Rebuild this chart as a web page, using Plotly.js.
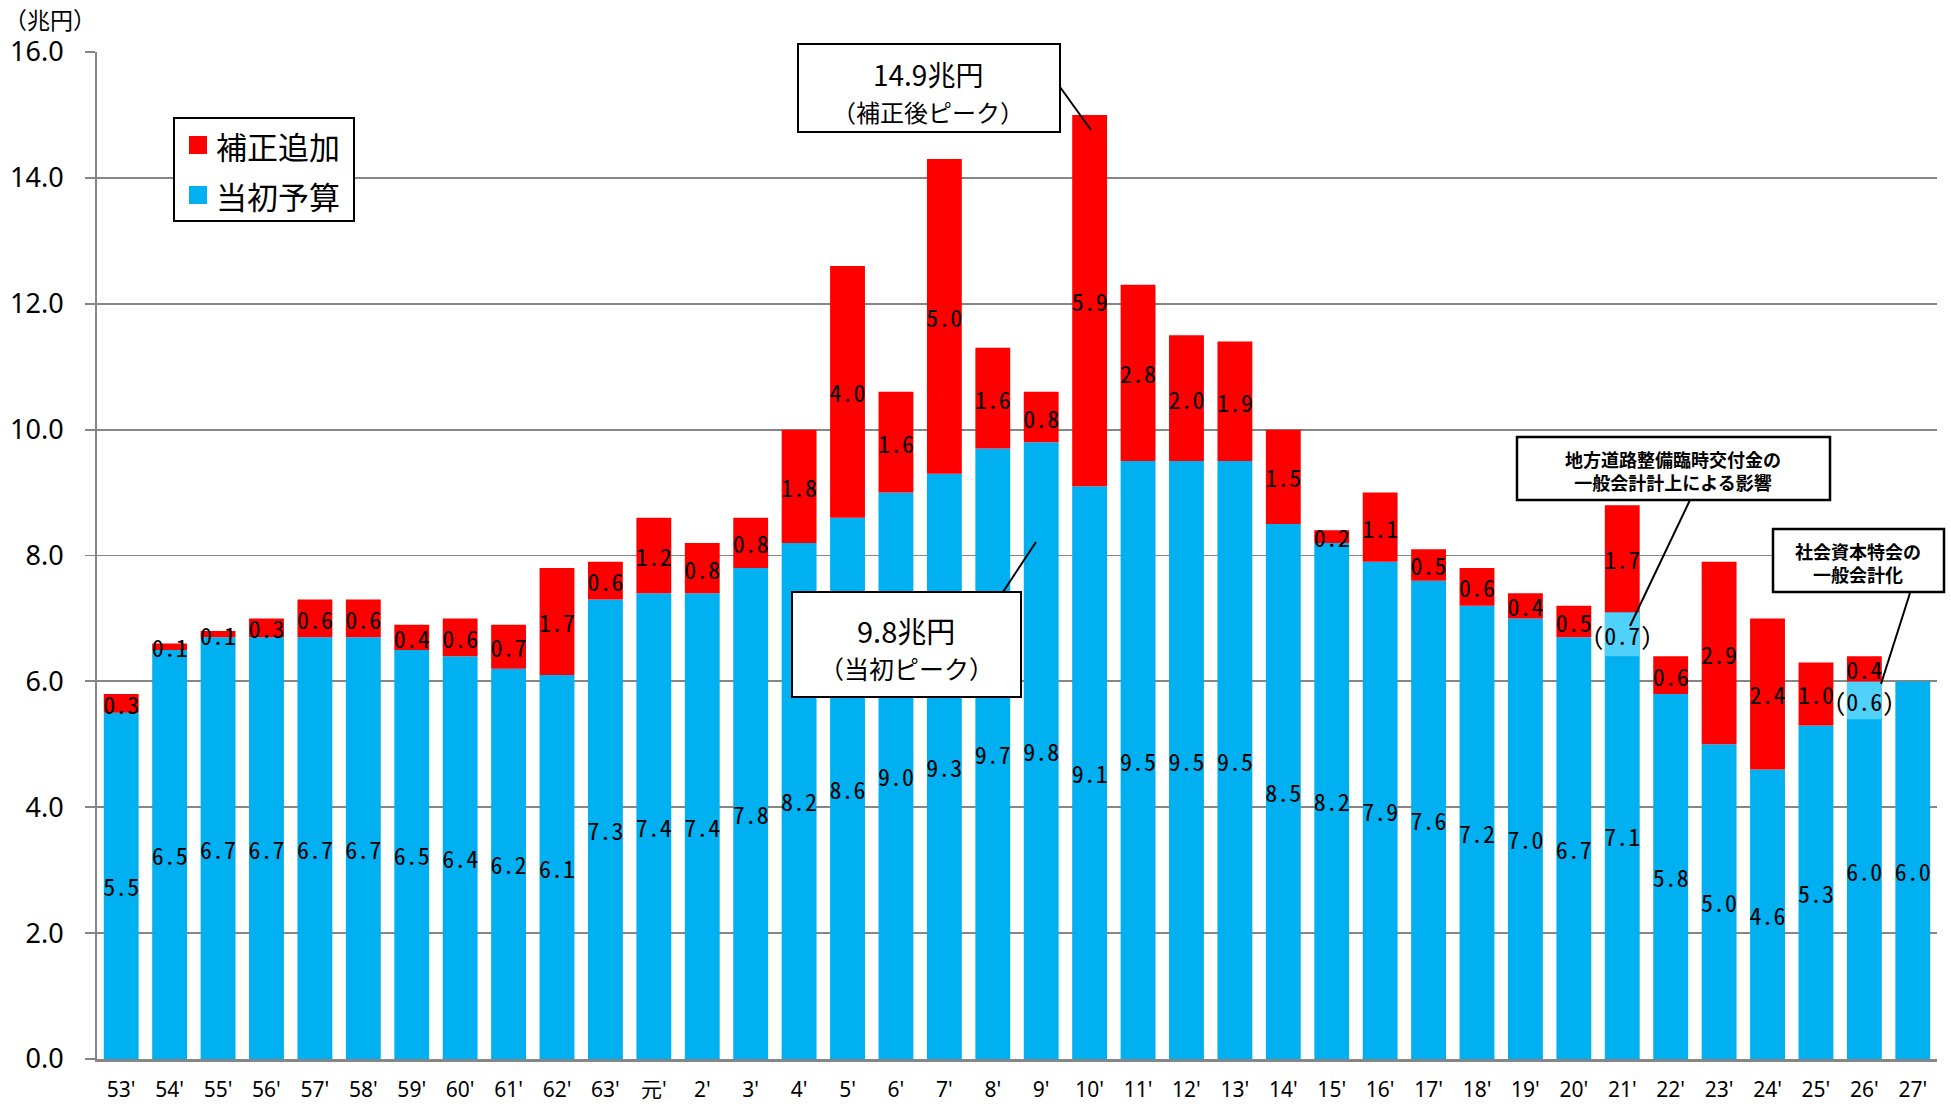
<!DOCTYPE html>
<html>
<head>
<meta charset="utf-8">
<script src="https://cdn.plot.ly/plotly-3.0.1.min.js"></script>
<style>
  html, body { margin: 0; padding: 0; background: #fff; }
  #chart { width: 1951px; height: 1110px; }
</style>
</head>
<body>
<div id="chart"></div>
<script>
// Fiscal years (昭和53年度 – 平成27年度)
const years = ["53'","54'","55'","56'","57'","58'","59'","60'","61'","62'","63'","元'",
  "2'","3'","4'","5'","6'","7'","8'","9'","10'","11'","12'","13'","14'","15'","16'",
  "17'","18'","19'","20'","21'","22'","23'","24'","25'","26'","27'"];

// 当初予算 (兆円)
const initialBudget = [5.5,6.5,6.7,6.7,6.7,6.7,6.5,6.4,6.2,6.1,7.3,7.4,
  7.4,7.8,8.2,8.6,9.0,9.3,9.7,9.8,9.1,9.5,9.5,9.5,8.5,8.2,7.9,
  7.6,7.2,7.0,6.7,7.1,5.8,5.0,4.6,5.3,6.0,6.0];

// 補正追加 (兆円)
const supplementary = [0.3,0.1,0.1,0.3,0.6,0.6,0.4,0.6,0.7,1.7,0.6,1.2,
  0.8,0.8,1.8,4.0,1.6,5.0,1.6,0.8,5.9,2.8,2.0,1.9,1.5,0.2,1.1,
  0.5,0.6,0.4,0.5,1.7,0.6,2.9,2.4,1.0,0.4,null];

// Portion of the initial budget due to accounting changes (兆円)
const reclassified = [null,null,null,null,null,null,null,null,null,null,null,null,
  null,null,null,null,null,null,null,null,null,null,null,null,null,null,null,
  null,null,null,null,0.7,null,null,null,null,0.6,null];

const seriesNames = ["補正追加", "当初予算"];
const colors = { supp: "#ff0000", initial: "#00b0f0", reclass: "#4fd1fa" };

const labelFont = { family: "Noto Sans Mono CJK JP, Liberation Mono, monospace", size: 24, color: "#000" };
const jpFont = "Noto Sans CJK JP, Noto Sans, sans-serif";

const fmt = v => (v == null ? "" : v.toFixed(1));

const traceInitial = {
  type: "bar", name: seriesNames[1], x: years, y: initialBudget, base: 0,
  marker: { color: colors.initial, line: { width: 0 } },
  text: initialBudget.map(fmt), textposition: "inside", insidetextanchor: "middle",
  textangle: 0, constraintext: "none", textfont: labelFont, insidetextfont: labelFont,
  hoverinfo: "x+y"
};

const traceReclass = {
  type: "bar", name: "一般会計化", x: years, y: reclassified,
  base: reclassified.map((v, i) => v == null ? null : initialBudget[i] - v),
  marker: { color: colors.reclass, line: { width: 0 } },
  text: reclassified.map(v => v == null ? "" : "(" + fmt(v) + ")"),
  textposition: "inside", insidetextanchor: "middle",
  textangle: 0, constraintext: "none", textfont: labelFont, insidetextfont: labelFont,
  hoverinfo: "x+y"
};

const traceSupp = {
  type: "bar", name: seriesNames[0], x: years, y: supplementary, base: initialBudget,
  marker: { color: colors.supp, line: { width: 0 } },
  text: supplementary.map(fmt), textposition: "inside", insidetextanchor: "middle",
  textangle: 0, constraintext: "none", textfont: labelFont, insidetextfont: labelFont,
  hoverinfo: "x+y"
};

// Page geometry helpers: pixel position -> paper coordinates
const W = 1951, H = 1110, ML = 97, MR = 14, MT = 52, MB = 51;
const PW = W - ML - MR, PH = H - MT - MB;
const fx = p => (p - ML) / PW;
const fy = p => (H - MB - p) / PH;

function box(x0, y0, x1, y1, w) {
  return { type: "rect", xref: "paper", yref: "paper", x0: fx(x0), x1: fx(x1), y0: fy(y1), y1: fy(y0),
    fillcolor: "#fff", line: { color: "#000", width: w || 2 }, layer: "above" };
}
function seg(x0, y0, x1, y1) {
  return { type: "line", xref: "paper", yref: "paper", x0: fx(x0), y0: fy(y0), x1: fx(x1), y1: fy(y1),
    line: { color: "#000", width: 2 }, layer: "above" };
}
function swatch(x0, y0, size, color) {
  return { type: "rect", xref: "paper", yref: "paper", x0: fx(x0), x1: fx(x0 + size), y0: fy(y0 + size), y1: fy(y0),
    fillcolor: color, line: { width: 0 }, layer: "above" };
}
function label(text, x, y, size, opts) {
  return Object.assign({ xref: "paper", yref: "paper", x: fx(x), y: fy(y), text: text, showarrow: false,
    xanchor: "center", yanchor: "middle", font: { family: jpFont, size: size, color: "#000" } }, opts || {});
}

const shapes = [
  // legend
  box(174, 118, 354, 221, 2),
  swatch(189, 136, 18, colors.supp),
  swatch(189, 186, 18, colors.initial),
  // 補正後ピーク callout
  seg(1060, 87, 1091, 130),
  box(798, 44, 1060, 132, 2),
  // 当初ピーク callout
  seg(1003, 592, 1036, 542),
  box(792, 592, 1021, 697, 2),
  // 地方道路整備臨時交付金 callout
  seg(1690, 500, 1630, 626),
  box(1517, 437, 1830, 500, 2.5),
  // 社会資本特会 callout
  seg(1910, 593, 1881, 684),
  box(1773, 529, 1944, 592, 2.5)
];

const annotations = [
  label("（兆円）", 50, 19, 23),
  label(seriesNames[0], 214, 146, 31, { xanchor: "left" }),
  label(seriesNames[1], 214, 196, 31, { xanchor: "left" }),
  label("14.9兆円", 928, 74, 28),
  label("（補正後ピーク）", 928, 111, 24),
  label("9.8兆円", 906, 630, 29),
  label("（当初ピーク）", 906, 668, 25),
  label("<b>地方道路整備臨時交付金の<br>一般会計計上による影響</b>", 1673, 470, 18),
  label("<b>社会資本特会の<br>一般会計化</b>", 1858, 562, 18)
];

const layout = {
  width: W, height: H,
  margin: { l: ML, r: MR, t: MT, b: MB, pad: 0 },
  paper_bgcolor: "#fff", plot_bgcolor: "#fff",
  barmode: "overlay", bargap: 0.28,
  showlegend: false,
  font: { family: jpFont, color: "#000" },
  xaxis: {
    type: "category", categoryorder: "array", categoryarray: years,
    showline: true, linecolor: "#868686", linewidth: 2.5,
    ticks: "", showgrid: false, zeroline: false,
    tickfont: { family: "Noto Sans, Noto Sans CJK JP, sans-serif", size: 21, color: "#000" },
    ticklabelstandoff: 10
  },
  yaxis: {
    range: [0, 16], tickvals: [0, 2, 4, 6, 8, 10, 12, 14, 16], tickformat: ".1f",
    showgrid: true, gridcolor: "#868686", gridwidth: 1.8,
    showline: true, linecolor: "#868686", linewidth: 2,
    ticks: "outside", ticklen: 10, tickcolor: "#868686", tickwidth: 1.8,
    zeroline: false,
    tickfont: { family: "Noto Sans, sans-serif", size: 27, color: "#000" },
    ticklabelstandoff: 16
  },
  shapes: shapes,
  annotations: annotations
};

Plotly.newPlot("chart", [traceInitial, traceReclass, traceSupp], layout, { displayModeBar: false, staticPlot: true });
</script>
</body>
</html>
